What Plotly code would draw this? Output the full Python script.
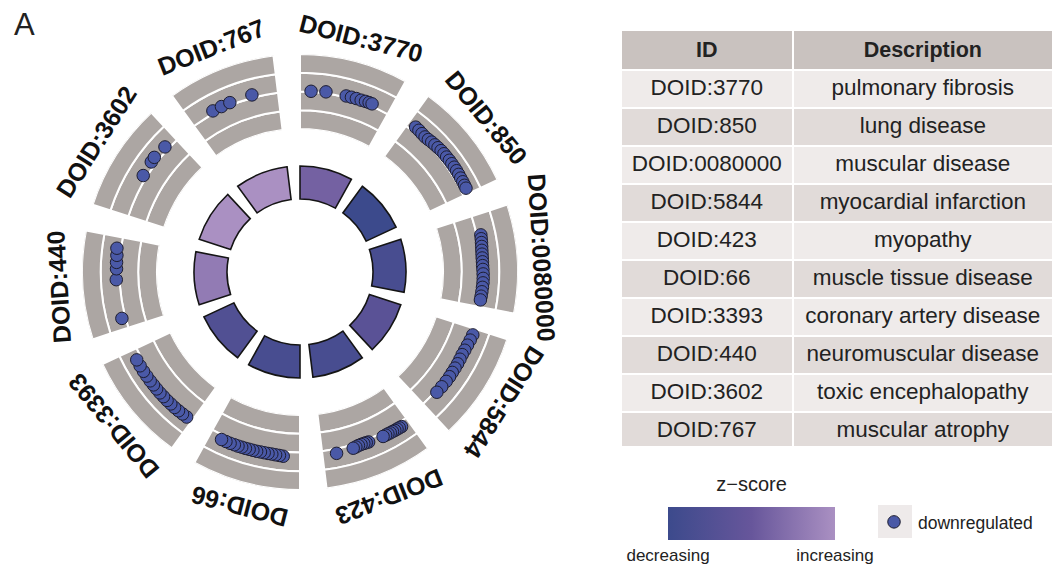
import math
import plotly.graph_objects as go

# ---- data -------------------------------------------------------------
term_ids = ["DOID:3770", "DOID:850", "DOID:0080000", "DOID:5844", "DOID:423",
            "DOID:66", "DOID:3393", "DOID:440", "DOID:3602", "DOID:767"]
term_desc = ["pulmonary fibrosis", "lung disease", "muscular disease",
             "myocardial infarction", "myopathy", "muscle tissue disease",
             "coronary artery disease", "neuromuscular disease",
             "toxic encephalopathy", "muscular atrophy"]
zscore = [-3.00, -4.47, -4.12, -3.61, -4.12, -4.12, -3.87, -2.45, -2.00, -2.00]

# gene positions around the circle (degrees, clockwise from top) per term
gene_theta = [
    [3.5, 8.2, 14.7, 16.4, 18.0, 19.6, 21.0, 22.2, 23.2],
    [38.6, 40.0, 41.4, 42.8, 44.1, 45.4, 46.7, 48.0, 49.3, 50.6, 51.9, 53.2,
     54.5, 55.8, 57.1, 58.4, 59.7, 61.0, 62.2, 63.2],
    [78.4, 79.6, 80.8, 82.0, 83.2, 84.4, 85.6, 86.8, 88.0, 89.2, 90.6, 92.0,
     93.4, 94.8, 96.2, 97.6, 98.8],
    [110.0, 111.8, 113.6, 115.4, 117.0, 118.6, 120.2, 121.8, 123.4, 125.0,
     126.8, 129.0, 131.3],
    [146.7, 147.5, 148.3, 149.1, 149.9, 150.7, 151.5, 152.3, 153.2, 158.0,
     158.8, 159.6, 160.5, 161.4, 162.3, 163.2, 168.6],
    [185.2, 186.4, 187.6, 188.8, 190.0, 191.2, 192.4, 193.6, 194.8, 196.0,
     197.2, 198.4, 199.6, 200.8, 202.2, 203.6, 205.1],
    [218.0, 219.6, 221.2, 222.8, 224.4, 226.0, 227.6, 229.2, 230.8, 232.4,
     234.0, 235.8, 237.6, 239.6, 241.7],
    [255.4, 267.6, 271.0, 273.0, 275.2, 277.4],
    [301.6, 306.5, 308.2, 312.8],
    [331.6, 334.6, 337.5, 344.8],
]
# log2 fold change of each gene
gene_logfc = [
    [-1.97, -1.92, -1.92, -1.91, -1.90, -1.90, -1.88, -1.87, -1.87],
    [-1.74, -1.76, -1.79, -1.81, -1.79, -1.76, -1.74, -1.72, -1.70, -1.69,
     -1.69, -1.68, -1.68, -1.68, -1.68, -1.69, -1.70, -1.70, -1.71, -1.71],
    [-1.78, -1.80, -1.82, -1.84, -1.86, -1.87, -1.88, -1.88, -1.88, -1.87,
     -1.86, -1.85, -1.85, -1.86, -1.87, -1.88, -1.89],
    [-1.82, -1.85, -1.88, -1.90, -1.92, -1.91, -1.90, -1.90, -1.90, -1.89,
     -1.89, -1.90, -1.91],
    [-1.76, -1.77, -1.78, -1.78, -1.79, -1.79, -1.80, -1.80, -1.80, -1.85,
     -1.86, -1.87, -1.87, -1.86, -1.83, -1.81, -1.76],
    [-1.76, -1.78, -1.79, -1.80, -1.80, -1.80, -1.80, -1.79, -1.79, -1.79,
     -1.78, -1.78, -1.77, -1.77, -1.76, -1.76, -1.76],
    [-1.81, -1.80, -1.79, -1.78, -1.78, -1.77, -1.77, -1.76, -1.76, -1.76,
     -1.75, -1.75, -1.74, -1.74, -1.74],
    [-1.81, -1.82, -1.84, -1.83, -1.82, -1.78],
    [-1.81, -1.76, -1.74, -1.81],
    [-1.86, -1.86, -1.85, -1.84],
]

# ---- styling / geometry ----------------------------------------------
W, H = 1054, 569
CX, CY = 300, 272            # circle centre (px from left / top)
R_OUT = 218                   # outer radius of the gene track (px)
RING_BASE, RING_H = 73, 33    # z-score ring (px)
TRACK_HOLE = 143 / R_OUT      # inner edge of the gene track
LFC_MIN, LFC_MAX = -4, 0      # logFC range of the gene track
LABEL_R = 242
N = len(term_ids)
STEP = 360 / N
SPAN = 29
mids = [i * STEP + SPAN / 2 for i in range(N)]

GRAY = "#aca6a3"
DOT = "#4a59a7"
ZSCALE = [[0, "#3c4a8c"], [0.5, "#67569b"], [1, "#aa90c2"]]
FONT = "Arial, Liberation Sans, sans-serif"

fig = go.Figure()

# inner ring coloured by z-score
fig.add_trace(go.Barpolar(
    r=[RING_H] * N, base=[RING_BASE] * N, theta=mids, width=[SPAN] * N,
    marker=dict(
        color=zscore, colorscale=ZSCALE, cmin=min(zscore), cmax=max(zscore),
        line=dict(color="#151515", width=1.6),
        showscale=True,
        colorbar=dict(
            orientation="h", x=751.5 / W, xanchor="center",
            y=(H - 475) / H, yanchor="top",
            len=187, lenmode="pixels", thickness=33, outlinewidth=0,
            title=dict(text="z\u2212score", side="top",
                       font=dict(size=20, color="#222")),
            tickvals=[min(zscore), max(zscore)],
            ticktext=["decreasing", "increasing"],
            ticks="", tickfont=dict(size=17, color="#222"),
        ),
    ),
    subplot="polar", showlegend=False, hoverinfo="skip",
))

# grey gene track, split into logFC bands by white lines
for lo in range(LFC_MIN, LFC_MAX):
    fig.add_trace(go.Barpolar(
        r=[1] * N, base=[lo] * N, theta=mids, width=[SPAN] * N,
        marker=dict(color=GRAY, line=dict(color="white", width=2)),
        subplot="polar2", showlegend=False, hoverinfo="skip",
    ))

# genes
fig.add_trace(go.Scatterpolar(
    r=[v for grp in gene_logfc for v in grp],
    theta=[t for grp in gene_theta for t in grp],
    mode="markers", name="downregulated",
    marker=dict(size=12.5, color=DOT, line=dict(color="#1d1d30", width=1)),
    subplot="polar2", showlegend=True,
))

# term table
row_fill = ["#efebea" if i % 2 == 0 else "#e1dbd9" for i in range(N)]
fig.add_trace(go.Table(
    domain=dict(x=[621 / W, 1], y=[(H - 446) / H, (H - 30) / H]),
    columnwidth=[172, 261],
    header=dict(values=["<b>ID</b>", "<b>Description</b>"],
                fill_color="#c9c2bf", line=dict(color="white", width=2),
                font=dict(size=21.5, color="#222", family=FONT),
                align="center", height=36),
    cells=dict(values=[term_ids, term_desc],
               fill_color=[row_fill, row_fill],
               line=dict(color="white", width=2),
               font=dict(size=22.5, color="#222", family=FONT),
               align="center", height=38),
))

dom = dict(x=[(CX - R_OUT) / W, (CX + R_OUT) / W],
           y=[(H - CY - R_OUT) / H, (H - CY + R_OUT) / H])
hidden_ang = dict(rotation=90, direction="clockwise", visible=False)

annotations = [dict(text="A", x=12 / W, y=1 - 24 / H, xref="paper", yref="paper",
                    xanchor="left", yanchor="middle", showarrow=False,
                    font=dict(size=31, color="#222"))]
for tid, m in zip(term_ids, mids):
    a = math.radians(m)
    ang = m if m <= 180 else m - 360
    annotations.append(dict(
        text=f"<b>{tid}</b>",
        x=(CX + LABEL_R * math.sin(a)) / W,
        y=(H - CY + LABEL_R * math.cos(a)) / H,
        xref="paper", yref="paper", xanchor="center", yanchor="middle",
        textangle=ang, showarrow=False,
        font=dict(size=25, color="#111"),
    ))

fig.update_layout(
    width=W, height=H,
    margin=dict(l=0, r=0, t=0, b=0, autoexpand=False),
    paper_bgcolor="white", plot_bgcolor="white",
    font=dict(family=FONT, color="#222"),
    polar=dict(domain=dom, bgcolor="rgba(0,0,0,0)", hole=0,
               radialaxis=dict(range=[0, R_OUT], visible=False),
               angularaxis=hidden_ang),
    polar2=dict(domain=dom, bgcolor="rgba(0,0,0,0)", hole=TRACK_HOLE,
                radialaxis=dict(range=[LFC_MIN, LFC_MAX], visible=False),
                angularaxis=hidden_ang),
    legend=dict(x=870 / W, y=(H - 522) / H, xanchor="left", yanchor="middle",
                itemwidth=38,
                bgcolor="rgba(0,0,0,0)", font=dict(size=17.5, color="#222")),
    shapes=[dict(type="rect", xref="paper", yref="paper",
                 x0=878 / W, x1=912 / W, y0=(H - 538) / H, y1=(H - 505) / H,
                 fillcolor="#eeeaea", line=dict(width=0), layer="below")],
    annotations=annotations,
)

fig.write_html("out.html")
